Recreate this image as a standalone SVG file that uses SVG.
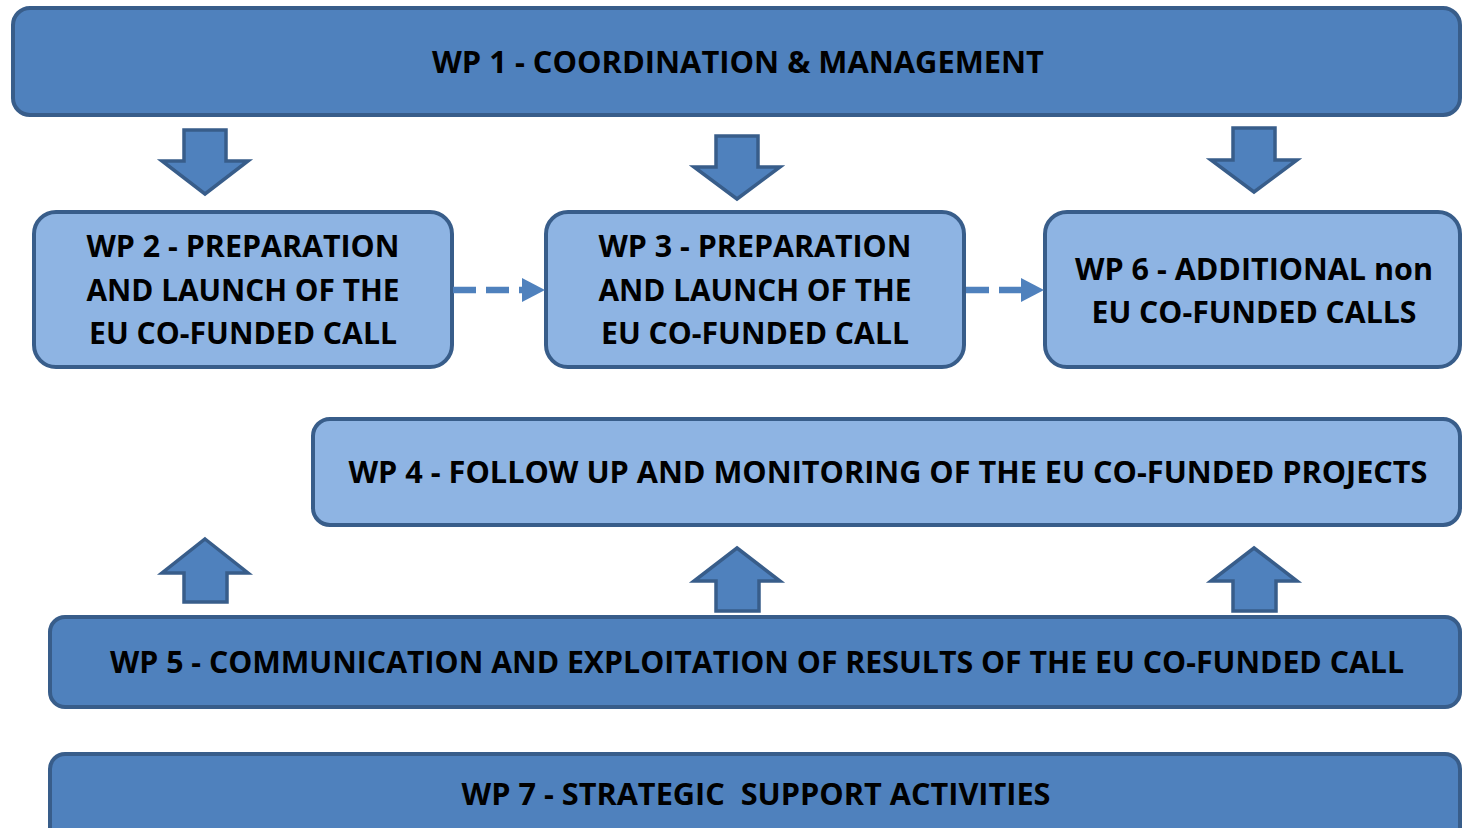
<svg xmlns="http://www.w3.org/2000/svg" width="1464" height="828" viewBox="0 0 1464 828">
<style>
.dark{fill:#4F81BD;stroke:#385D8A;stroke-width:4}
.light{fill:#8EB4E3;stroke:#385D8A;stroke-width:4}
.arr{fill:#4F81BD;stroke:#385D8A;stroke-width:3.5;stroke-linejoin:miter}
.t{font-family:"Open Sans",Lato,"Liberation Sans",sans-serif;font-weight:bold;font-size:30px;fill:#000;text-anchor:middle}
.dash{stroke:#4F81BD;stroke-width:6.5;stroke-dasharray:23 10;fill:none}
.head{fill:#4F81BD}
</style>
<rect width="1464" height="828" fill="#FFFFFF"/>
<g id="wp1">
<rect class="dark" x="13" y="8" width="1447" height="107" rx="17"/>
<text class="t" x="738" y="73" textLength="612" lengthAdjust="spacingAndGlyphs">WP 1 - COORDINATION &amp; MANAGEMENT</text>
</g>
<g id="wp2">
<rect class="light" x="34" y="212" width="418" height="155" rx="22"/>
<text class="t" x="243" y="257" textLength="313" lengthAdjust="spacingAndGlyphs">WP 2 - PREPARATION</text>
<text class="t" x="243" y="301" textLength="313" lengthAdjust="spacingAndGlyphs">AND LAUNCH OF THE</text>
<text class="t" x="243" y="344" textLength="308" lengthAdjust="spacingAndGlyphs">EU CO-FUNDED CALL</text>
</g>
<g id="wp3">
<rect class="light" x="546" y="212" width="418" height="155" rx="22"/>
<text class="t" x="755" y="257" textLength="313" lengthAdjust="spacingAndGlyphs">WP 3 - PREPARATION</text>
<text class="t" x="755" y="301" textLength="313" lengthAdjust="spacingAndGlyphs">AND LAUNCH OF THE</text>
<text class="t" x="755" y="344" textLength="308" lengthAdjust="spacingAndGlyphs">EU CO-FUNDED CALL</text>
</g>
<g id="wp6">
<rect class="light" x="1045" y="212" width="415" height="155" rx="22"/>
<text class="t" x="1254" y="280" textLength="358" lengthAdjust="spacingAndGlyphs">WP 6 - ADDITIONAL non</text>
<text class="t" x="1254" y="323" textLength="325" lengthAdjust="spacingAndGlyphs">EU CO-FUNDED CALLS</text>
</g>
<g id="wp4">
<rect class="light" x="313" y="419" width="1147" height="106" rx="17"/>
<text class="t" x="888" y="483" textLength="1079" lengthAdjust="spacingAndGlyphs">WP 4 - FOLLOW UP AND MONITORING OF THE EU CO-FUNDED PROJECTS</text>
</g>
<g id="wp5">
<rect class="dark" x="50" y="617" width="1410" height="90" rx="15"/>
<text class="t" x="757" y="673" textLength="1294" lengthAdjust="spacingAndGlyphs">WP 5 - COMMUNICATION AND EXPLOITATION OF RESULTS OF THE EU CO-FUNDED CALL</text>
</g>
<g id="wp7">
<rect class="dark" x="50" y="754" width="1410" height="92" rx="15"/>
<text class="t" x="756" y="805" textLength="589" lengthAdjust="spacingAndGlyphs" xml:space="preserve">WP 7 - STRATEGIC  SUPPORT ACTIVITIES</text>
</g>
<g id="connectors">
<polygon class="arr" points="184,130 226,130 226,161 248,161 205,194 162,161 184,161"/>
<polygon class="arr" points="716,136 758,136 758,167 780,167 737,199 694,167 716,167"/>
<polygon class="arr" points="1233,128 1275,128 1275,160 1297,160 1254,192 1211,160 1233,160"/>
<polygon class="arr" points="205,539 248,573 227,573 227,602 184,602 184,573 162,573"/>
<polygon class="arr" points="737,548 780,581 759,581 759,611 716,611 716,581 694,581"/>
<polygon class="arr" points="1254,548 1297,581 1276,581 1276,611 1233,611 1233,581 1211,581"/>
<line class="dash" x1="453" y1="290" x2="523" y2="290"/>
<polygon class="head" points="522,278 545,290 522,302"/>
<line class="dash" x1="966" y1="290" x2="1022" y2="290"/>
<polygon class="head" points="1021,278 1044,290 1021,302"/>
</g>
</svg>
